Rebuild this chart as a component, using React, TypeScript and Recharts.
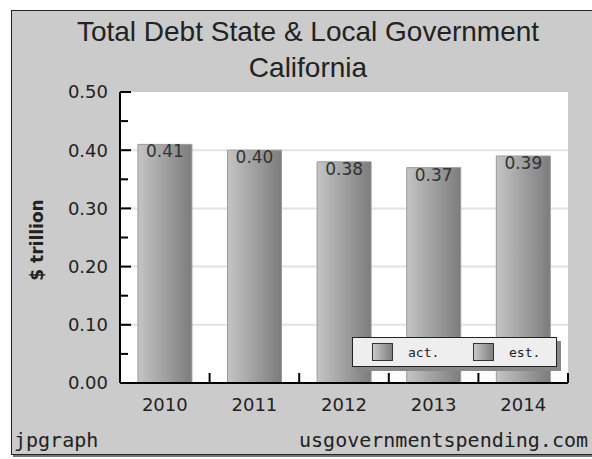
import React from 'react';
import { BarChart, Bar, XAxis, YAxis, CartesianGrid, LabelList } from 'recharts';

const years = ['2010', '2011', '2012', '2013', '2014'];
const actual = [0.41, 0.40, 0.38, 0.37, null];
const estimate = [null, null, null, null, 0.39];
const yTicks = [0, 0.05, 0.1, 0.15, 0.2, 0.25, 0.3, 0.35, 0.4, 0.45, 0.5];
const seriesNames = ['act.', 'est.'];

const data = years.map((year, i) => ({ year, act: actual[i], est: estimate[i] }));

const W = 592;
const H = 459;
const margin = { top: 92, right: 24, bottom: 36, left: 20 };
const Y_AXIS_W = 100;
const X_AXIS_H = 40;
const PLOT_W = W - margin.left - margin.right - Y_AXIS_W;
const BAND = PLOT_W / years.length;

const tickFont = { fontFamily: 'DejaVu Sans', fontSize: 18, fill: '#222' };

const YTick = (props: any) => {
  const { x, y, payload, index } = props;
  const axisX = x + 12;
  const major = index % 2 === 0;
  return (
    <g>
      <line x1={axisX} x2={axisX + (major ? 11 : 8)} y1={y} y2={y} stroke="#000" strokeWidth={2} />
      {major && (
        <text x={x} y={y} dy="0.36em" textAnchor="end" {...tickFont}>
          {payload.value.toFixed(2)}
        </text>
      )}
    </g>
  );
};

const XTick = (props: any) => {
  const { x, y, payload } = props;
  const axisY = y - 14;
  return (
    <g>
      <line x1={x + BAND / 2} x2={x + BAND / 2} y1={axisY} y2={axisY - 10} stroke="#000" strokeWidth={2} />
      <text x={x} y={y} dy="0.76em" textAnchor="middle" {...tickFont}>
        {payload.value}
      </text>
    </g>
  );
};

const Swatch = () => (
  <div
    style={{
      width: 19,
      height: 16,
      border: '1px solid #333',
      background: 'linear-gradient(to right, #c8c8c8, #7e7e7e)',
    }}
  />
);

export default function App() {
  return (
    <div style={{ position: 'absolute', left: 0, top: 0, width: W, height: H, background: '#fff', overflow: 'hidden' }}>
      <div
        style={{
          position: 'absolute',
          left: 11,
          top: 10,
          width: 600,
          height: 443,
          background: '#cbcbcb',
          border: '1px solid #222',
          boxShadow: '2px 2px 0 #777',
        }}
      />
      <div
        style={{
          position: 'absolute',
          left: 11,
          width: 594,
          top: 14,
          textAlign: 'center',
          fontFamily: 'Liberation Sans',
          fontSize: 28,
          lineHeight: '36px',
          color: '#222',
        }}
      >
        Total Debt State &amp; Local Government
        <br />
        California
      </div>
      <div style={{ position: 'absolute', left: 0, top: 0 }}>
        <BarChart width={W} height={H} data={data} margin={margin} barCategoryGap="20%">
          <defs>
            <linearGradient id="barGrad" x1="0" y1="0" x2="1" y2="0">
              <stop offset="0%" stopColor="#c4c4c4" />
              <stop offset="100%" stopColor="#7c7c7c" />
            </linearGradient>
          </defs>
          <CartesianGrid vertical={false} fill="#fff" stroke="#e2e2e2" strokeWidth={2} horizontalValues={[0.1, 0.2, 0.3, 0.4]} />
          <XAxis
            dataKey="year"
            height={X_AXIS_H}
            tickSize={0}
            tickMargin={14}
            tick={<XTick />}
            axisLine={{ stroke: '#000', strokeWidth: 2 }}
            tickLine={false}
          />
          <YAxis
            width={Y_AXIS_W}
            domain={[0, 0.5]}
            ticks={yTicks}
            interval={0}
            tickSize={0}
            tickMargin={12}
            tick={<YTick />}
            axisLine={{ stroke: '#000', strokeWidth: 2 }}
            tickLine={false}
          />
          <Bar dataKey="act" stackId="a" fill="url(#barGrad)" stroke="#9a9a9a" isAnimationActive={false}>
            <LabelList
              dataKey="act"
              position="insideTop"
              offset={1}
              formatter={(v: any) => (v == null ? '' : Number(v).toFixed(2))}
              style={{ fontFamily: 'DejaVu Sans', fontSize: 17, fill: '#333' }}
            />
          </Bar>
          <Bar dataKey="est" stackId="a" fill="url(#barGrad)" stroke="#9a9a9a" isAnimationActive={false}>
            <LabelList
              dataKey="est"
              position="insideTop"
              offset={1}
              formatter={(v: any) => (v == null ? '' : Number(v).toFixed(2))}
              style={{ fontFamily: 'DejaVu Sans', fontSize: 17, fill: '#333' }}
            />
          </Bar>
        </BarChart>
      </div>
      <div
        style={{
          position: 'absolute',
          left: 37,
          top: 240,
          transform: 'translate(-50%, -50%) rotate(-90deg)',
          fontFamily: 'DejaVu Sans',
          fontWeight: 'bold',
          fontSize: 17,
          color: '#222',
          whiteSpace: 'nowrap',
        }}
      >
        $ trillion
      </div>
      <div
        style={{
          position: 'absolute',
          left: 352,
          top: 337,
          width: 203,
          height: 28,
          background: '#eeeeee',
          border: '1px solid #222',
          boxShadow: '4px 4px 0 #888',
          display: 'flex',
          alignItems: 'center',
          fontFamily: 'DejaVu Sans Mono',
          fontSize: 13,
          color: '#222',
        }}
      >
        {seriesNames.map((name) => (
          <div key={name} style={{ display: 'flex', alignItems: 'center', marginLeft: 19, width: 82 }}>
            <Swatch />
            <span style={{ marginLeft: 15 }}>{name}</span>
          </div>
        ))}
      </div>
      <div style={{ position: 'absolute', left: 14, top: 428, fontFamily: 'DejaVu Sans Mono', fontSize: 20, color: '#222' }}>
        jpgraph
      </div>
      <div style={{ position: 'absolute', right: 4, top: 428, fontFamily: 'DejaVu Sans Mono', fontSize: 20, color: '#222' }}>
        usgovernmentspending.com
      </div>
    </div>
  );
}
